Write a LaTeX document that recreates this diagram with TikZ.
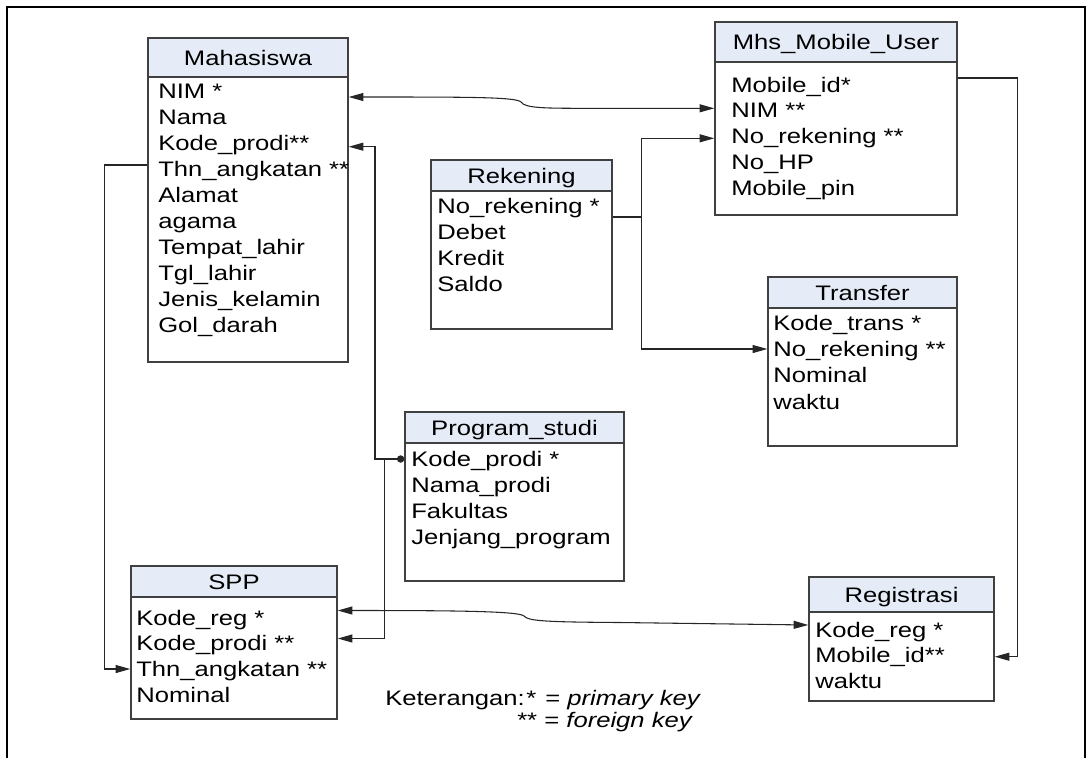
\documentclass[tikz,border=0pt]{standalone}
\usepackage{fontspec}
\setmainfont{Liberation Sans}[FakeStretch=1.22]
\usetikzlibrary{arrows.meta}
\definecolor{hdrfill}{HTML}{E5ECF7}
\definecolor{boxline}{HTML}{404040}
\definecolor{wire}{HTML}{262626}
\begin{document}
\begin{tikzpicture}[x=0.75pt,y=-0.75pt,
  >={Triangle[length=11pt,width=6pt]},
  tbl/.style={draw=boxline, line width=1.1pt, inner sep=0pt},
  hdr/.style={tbl, fill=hdrfill, font=\fontsize{15.75pt}{19pt}\selectfont, text height=11.3pt, text depth=0pt},
  body/.style={tbl, fill=white},
  row/.style={anchor=base west, inner sep=0pt, font=\fontsize{15.75pt}{19pt}\selectfont},
  conn/.style={draw=wire, line width=0.8pt},
]
\useasboundingbox (0,0) rectangle (1087,758);
% outer frame
\draw[line width=1.6pt] (7,758) -- (7,7) -- (1085,7) -- (1085,758);

% Mahasiswa
\node[body, minimum width=150pt, minimum height=213.75pt] (mhsb) at (248,219.5) {};
\node[hdr, minimum width=150pt, minimum height=29.25pt] (mhsh) at (248,57.5) {Mahasiswa};
\foreach \t [count=\i] in {NIM *, Nama, Kode\_prodi**, Thn\_angkatan **, Alamat, agama, Tempat\_lahir, Tgl\_lahir, Jenis\_kelamin, Gol\_darah}
  \node[row] (mhs\i) at (158,{98.5+26*(\i-1)}) {\t};

% Rekening
\node[body, minimum width=135.75pt, minimum height=103.5pt] (rekb) at (521.5,260) {};
\node[hdr, minimum width=135.75pt, minimum height=23.25pt] (rekh) at (521.5,175.5) {Rekening};
\foreach \t [count=\i] in {No\_rekening *, Debet, Kredit, Saldo}
  \node[row] (rek\i) at (437,{213+26*(\i-1)}) {\t};

% Mhs_Mobile_User
\node[body, minimum width=181.5pt, minimum height=114.75pt] (mobb) at (836,138.5) {};
\node[hdr, minimum width=181.5pt, minimum height=30pt] (mobh) at (836,42) {Mhs\_Mobile\_User};
\foreach \t [count=\i] in {Mobile\_id*, NIM **, No\_rekening **, No\_HP, Mobile\_pin}
  \node[row] (mob\i) at (731,{92+25.75*(\i-1)}) {\t};

% Transfer
\node[body, minimum width=141.75pt, minimum height=103.5pt] (trfb) at (862.5,377) {};
\node[hdr, minimum width=141.75pt, minimum height=23.25pt] (trfh) at (862.5,292.5) {Transfer};
\foreach \t [count=\i] in {Kode\_trans *, No\_rekening **, Nominal, waktu}
  \node[row] (trf\i) at (773,{330+26.4*(\i-1)}) {\t};

% Program_studi
\node[body, minimum width=164.25pt, minimum height=103.5pt] (pstb) at (514.5,512) {};
\node[hdr, minimum width=164.25pt, minimum height=23.25pt] (psth) at (514.5,427.5) {Program\_studi};
\foreach \t [count=\i] in {Kode\_prodi *, Nama\_prodi, Fakultas, Jenjang\_program}
  \node[row] (pst\i) at (411,{466+26*(\i-1)}) {\t};

% SPP
\node[body, minimum width=154.5pt, minimum height=91.5pt] (sppb) at (234,658) {};
\node[hdr, minimum width=154.5pt, minimum height=23.25pt] (spph) at (234,581.5) {SPP};
\foreach \t [count=\i] in {Kode\_reg *, Kode\_prodi **, Thn\_angkatan **, Nominal}
  \node[row] (spp\i) at (136,{625+25.7*(\i-1)}) {\t};

% Registrasi
\node[body, minimum width=138.75pt, minimum height=66.75pt] (regb) at (901.5,656.5) {};
\node[hdr, minimum width=138.75pt, minimum height=26.25pt] (regh) at (901.5,594.5) {Registrasi};
\foreach \t [count=\i] in {Kode\_reg *, Mobile\_id**, waktu}
  \node[row] (reg\i) at (815,{637+25.5*(\i-1)}) {\t};

% relations
\draw[conn,<->] (mhsb.east |- 0,97) .. controls (470,97) and (516,97) .. (521,102)
  .. controls (525,108.3) and (545,108.3) .. (590,108.3) -- (mobb.west |- 0,108.3);

\coordinate (rj) at (641.5,217);
\draw[conn] (rekb.east |- rj) -- (rj);
\draw[conn,->] (rj) |- (mobb.west |- 0,138.3);
\draw[conn,->] (rj) |- (trfb.west |- 0,349);

\draw[conn,->] (mobb.east |- 0,78) -- (1017.5,78) |- (regb.east |- 0,656.7);

\coordinate (pj) at (384.5,459);
\draw[conn,{Circle[length=5.5pt]}->] (pstb.west |- pj) -- (375,459) |- (mhsb.east |- 0,146.7);
\draw[conn,->] (pj) |- (sppb.east |- 0,638.5);

\draw[conn,->] (mhsb.west |- 0,165) -- (104.5,165) |- (sppb.west |- 0,669);

\draw[conn,<->] (sppb.east |- 0,610.5) .. controls (450,610.5) and (519,611) .. (524,616)
  .. controls (528,621) and (545,622) .. (620,622.5) -- (regb.west |- 0,625);

% legend
\node[row] (ket) at (385,705) {Keterangan:};
\node[row] (ket1) at (526,705) {*};
\node[row] (ket2) at (545,705) {= \textit{primary key}};
\node[row] (ket3) at (517,727) {** = \textit{foreign key}};
\end{tikzpicture}
\end{document}
